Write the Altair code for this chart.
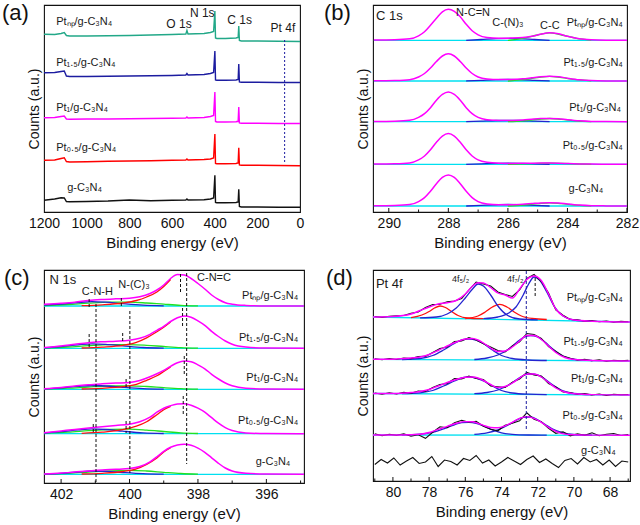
import altair as alt
import pandas as pd

FONT = "Liberation Sans"
MAG = "#ff00ff"
RED = "#ff1010"
BLUE = "#2424d0"
CYAN = "#00e0f0"
GREEN = "#22e022"
BLACK = "#111111"
TEAL = "#22a888"
NAVY = "#1c1ca0"

LBL = ["Ptₙₚ/g-C₃N₄", "Pt₁.₅/g-C₃N₄", "Pt₁/g-C₃N₄", "Pt₀.₅/g-C₃N₄", "g-C₃N₄"]

# ---------------- panel (a): survey ----------------
A_BE = [1200, 1150, 1120, 1105, 1095, 1080, 1000, 900, 800, 700, 600, 535, 530, 525,
        450, 420, 405, 399, 396, 390, 350, 300, 290, 287, 284, 275, 200, 100, 0]
A_NP = [177.7, 177.5, 178.5, 179.5, 176.5, 176, 176, 176.3, 176.5, 177, 177.5, 178, 181.5, 178,
        178.5, 179.5, 180.5, 201, 174, 173.5, 173.5, 174, 174.5, 186, 171.5, 171, 171, 170.7, 170.5]
A_15 = [139.3, 139.5, 140.5, 141, 136, 135.5, 135.5, 135.7, 136, 136.2, 136.5, 137, 138.5, 137,
        137.5, 138.5, 139.5, 161, 132, 131.7, 131.7, 132, 132.5, 148, 130, 129.7, 129.7, 129.5, 129.5]
A_1 = [94.3, 94.5, 95.5, 96, 93, 92.7, 93, 93, 93.2, 93.5, 93.7, 94, 95, 94,
       94.5, 95.5, 96.5, 120, 90.5, 90, 90, 90.3, 90.7, 105, 89, 88.7, 88.7, 88.5, 88.5]
A_05 = [51.7, 52, 53.5, 54.3, 50.5, 50, 50.3, 50.7, 51, 51.3, 51.7, 52, 53, 52,
        52.5, 53, 54, 78, 48.5, 48.3, 48.3, 48.5, 49, 64.3, 47, 46.7, 46.7, 46.5, 46.3]
A_G = [11.7, 13, 14.3, 14, 10.5, 10.3, 10.5, 11, 12, 11.3, 11.7, 12, 13, 12,
       12.3, 13, 14, 36.7, 9.5, 9.3, 9.3, 9.5, 10, 22.7, 5.5, 5, 5, 4.8, 4.7]
A_TICKS = [1200, 1000, 800, 600, 400, 200, 0]

# ---------------- panel (b): C 1s ----------------
B_BE = [290.5, 289.8, 289.3, 289.0, 288.8, 288.6, 288.4, 288.2, 288.0, 287.8, 287.6, 287.4, 287.2,
        287.0, 286.7, 286.3, 285.9, 285.5, 285.2, 284.9, 284.6, 284.3, 284.0, 283.6, 283.2, 282.7, 282.0]
B_NP = [0.2, 0.5, 1.5, 4.5, 8.5, 15, 22, 28.5, 31, 29, 23.5, 16, 9.5,
        5.5, 2.8, 2, 2.2, 2.8, 4, 6, 7.6, 6.5, 4, 1.5, 0.5, 0.1, 0]
B_15 = [0.2, 0.5, 1.3, 4, 7.5, 13, 19.5, 25, 27.3, 25, 19.5, 13, 7.5,
        4, 2, 1.5, 1.6, 2.2, 3.2, 4.2, 4.7, 4.2, 2.8, 1.2, 0.4, 0.1, 0]
B_1 = [0.2, 0.5, 1.4, 4.3, 8, 14, 21.5, 27.3, 29.7, 27.3, 21.5, 14, 8,
       4.3, 2, 1.3, 1.3, 1.8, 2.5, 3.1, 3.3, 3, 2, 0.9, 0.3, 0.1, 0]
B_05 = [0.2, 0.5, 1.4, 4.4, 8.3, 14.5, 22, 28.2, 30.7, 28.2, 22, 14.5, 8.3,
        4.4, 2, 1.1, 0.9, 1, 1.1, 1.2, 1.2, 1.1, 0.8, 0.4, 0.2, 0.1, 0]
B_G = [0.2, 0.5, 1.4, 4.4, 8.4, 14.7, 22.3, 28.6, 31, 28.6, 22.3, 14.7, 8.4,
       4.4, 2, 1.2, 1.2, 1.7, 2.4, 3.1, 3.3, 3, 2, 0.9, 0.3, 0.1, 0]
B_OFF = [171.7, 131, 90.3, 47.7, 6]
B_CN_BE = [287.4, 286.9, 286.4, 286.0, 285.6, 285.1, 284.6]
B_CN = [[0, 0.8, 1.7, 2, 1.7, 0.8, 0], [0, 0.7, 1.4, 1.7, 1.4, 0.7, 0], [0, 0.6, 1.2, 1.4, 1.2, 0.6, 0],
        [0, 0.5, 1, 1.2, 1, 0.5, 0], [0, 0.6, 1.2, 1.5, 1.2, 0.6, 0]]
B_CC_BE = [286.0, 285.5, 285.0, 284.6, 284.2, 283.7, 283.2]
B_CC = [[0, 2, 5.3, 7.4, 5.3, 2, 0.3], [0, 1.3, 3.3, 4.6, 3.3, 1.3, 0.2], [0, 0.9, 2.3, 3.2, 2.3, 0.9, 0.1],
        [0, 0.4, 0.9, 1.1, 0.9, 0.4, 0], [0, 0.9, 2.3, 3.2, 2.3, 0.9, 0.1]]
B_TICKS = [290, 288, 286, 284, 282]
B_MINOR = [289, 287, 285, 283]

# ---------------- panel (c): N 1s ----------------
C_BE = [402.5, 402.0, 401.6, 401.2, 400.8, 400.4, 400.0, 399.7, 399.4, 399.2, 399.0, 398.8,
        398.6, 398.4, 398.2, 398.0, 397.8, 397.6, 397.4, 397.2, 397.0, 396.6, 396.0, 394.9]
C_NP = [1.7, 2.7, 3.8, 5.5, 6.5, 7.2, 7.8, 9.3, 12.5, 16, 21, 27.5,
        31.5, 31, 27.5, 22.5, 17, 11, 6.5, 3.3, 1.8, 0.6, 0.1, 0]
C_15 = [0.7, 2.3, 4, 5.6, 6.5, 7.1, 8, 10, 14, 18, 22, 26.8,
        30.5, 32.3, 31, 27.5, 23, 17, 11.8, 7.3, 4, 1.2, 0.2, 0]
C_1 = [0.5, 1.8, 3.2, 4.6, 5.5, 6.2, 6.8, 8.8, 12.5, 15.5, 19, 23,
       26.5, 28.2, 27.5, 24.5, 20.5, 15, 10.3, 6.3, 3.5, 1, 0.2, 0]
C_05 = [1, 2.8, 4.3, 5.7, 7, 8.3, 9.5, 12, 16.5, 21.5, 25.5, 28,
        29.7, 30, 28.5, 25.5, 21.5, 16, 10.5, 6, 3.2, 0.8, 0.1, 0]
C_G = [0.3, 1.2, 2.3, 3.4, 4.4, 5, 5.8, 7.8, 12.5, 17.5, 23, 27,
       29.3, 30, 29, 26.2, 22, 16.5, 11, 6.3, 3.3, 1, 0.2, 0]
C_OFF = [177, 134.7, 93.7, 49.3, 8.7]
C_RED_BE = [401.4, 400.8, 400.2, 399.8, 399.5, 399.2, 399.0, 398.8]
C_RED = [[0.3, 1.2, 3, 5.5, 9, 14, 19.5, 26.5], [0.3, 1.2, 3, 6, 10.5, 16.5, 21, 26.2],
         [0.3, 1, 2.6, 5, 9, 13.5, 17.8, 22.3], [0.4, 1.5, 4, 7.5, 12, 19, 24, 27.3],
         [0.3, 1, 2.8, 5.5, 10, 16.3, 22.2, 26.5]]
C_BLUE_BE = [402.5, 402.0, 401.5, 401.1, 400.7, 400.2, 399.6, 399.0]
C_BLUE = [[0.8, 2, 3.5, 4.3, 3.8, 2.3, 0.8, 0.2], [0.5, 1.8, 3.5, 4.5, 4, 2.5, 0.8, 0.2],
          [0.4, 1.5, 3, 3.8, 3.3, 2, 0.7, 0.1], [0.7, 2, 3.8, 4.8, 4.2, 2.5, 0.8, 0.2],
          [0.2, 1, 2.3, 3.3, 3, 1.8, 0.6, 0.1]]
C_GREEN_BE = [402.5, 401.8, 401.2, 400.6, 400.0, 399.5, 399.0, 398.5, 398.0]
C_GREEN = [[0.5, 1.5, 2.8, 3.8, 3.8, 3, 1.8, 0.7, 0.2], [0.4, 1.3, 2.6, 3.6, 3.7, 3, 1.8, 0.7, 0.2],
           [0.3, 1.1, 2.3, 3.3, 3.5, 2.8, 1.6, 0.6, 0.1], [0.5, 1.6, 3, 4.2, 4.5, 3.6, 2.2, 0.8, 0.2],
           [0.3, 1, 2.2, 3.5, 4, 3.3, 2, 0.8, 0.2]]
C_LONG_BE = [400.98, 399.99, 398.33]
C_LONG_Y1 = [179, 172, 210]
C_LONG_Y2 = [0, 10, 19]
C_SEG_BE = [401.18, 400.24, 398.51, 401.18, 400.2, 398.45, 400.1, 398.4, 401.06, 400.1, 398.43]
C_SEG_Y1 = [184, 185, 209, 149, 150, 175, 104, 127, 59, 62, 87]
C_SEG_Y2 = [174, 177, 190, 135, 140, 157, 94, 109, 49, 50, 67]
C_TICKS = [402, 400, 398, 396]
C_MINOR = [401, 399, 397, 395]

# ---------------- panel (d): Pt 4f ----------------
D_BE = [81.1, 80, 79, 78.5, 78, 77.5, 77, 76.5, 76, 75.6, 75.3, 75.0, 74.6, 74.2, 73.8, 73.4,
        73.0, 72.6, 72.2, 71.8, 71.4, 71.0, 70.5, 70.0, 69, 66.9]
D_NP = [5, 5.5, 8, 11.5, 15, 18, 19.3, 21.5, 28, 36, 39.3, 39, 34.5, 29, 27, 24,
        33, 42.5, 46, 41.5, 28, 13, 5, 2, 0.8, 0]
D_15 = [1.7, 1.8, 3, 4, 6.5, 10.5, 15, 19, 22, 22.5, 21, 18, 13, 9.5, 10, 14,
        20, 25.5, 25.5, 21.5, 15, 8.5, 3.5, 1.5, 0.5, 0]
D_1 = [1.5, 1.5, 2.5, 3.5, 5.5, 9, 12.5, 15.5, 17.8, 18, 17, 14.5, 10.5, 7.5, 8.5, 12,
       17, 21, 21, 18, 12.5, 7, 3, 1.2, 0.4, 0]
D_05 = [0.3, 0.3, 0.5, 1, 2.8, 6, 9, 12, 13.7, 13.5, 12, 10, 7.8, 7.5, 9.5, 13,
        17, 18.7, 17, 13, 8, 4, 1.2, 0.5, 0.2, 0]
D_OFF = [159, 120, 86, 45.7, 17.5]
D_CYAN_LEFT = [5, 1.7, 1.5, 0.3]
D_RAW_BE = [81.0, 80.6, 80.2, 79.8, 79.4, 79.0, 78.6, 78.2, 77.8, 77.4, 77.0, 76.6, 76.2, 75.8,
            75.4, 75.0, 74.6, 74.2, 73.8, 73.4, 73.0, 72.6, 72.2, 71.8, 71.4, 71.0, 70.6, 70.2,
            69.8, 69.4, 69.0, 68.6, 68.2, 67.8, 67.4, 67.0]
D_RAW_NP = [5.5, 4.6, 5.8, 6.3, 6.5, 8.7, 10, 14.5, 17.5, 17.8, 20.2, 21, 23.5, 32, 40, 38, 36, 30,
            27.5, 25.5, 32, 43.5, 47.5, 40.5, 29, 12, 6.8, 2.5, 2.2, 0.8, 1.5, 0.2, 1, -0.3, 0.6, 0.2]
D_RAW_15 = [2.2, 1.3, 2.5, 1.5, 3, 2.4, 4.5, 4.6, 8.5, 12.5, 14, 19.5, 20, 23.5, 21, 17.2, 14, 10.5,
            9, 15, 19.2, 27.5, 26.5, 22.5, 14.5, 9.5, 5, 2.8, 0.8, 1.8, 0.2, 1.2, -0.2, 0.8, 0.3, 0.6]
D_RAW_1 = [2, 0.8, 2.3, 1, 2.8, 1.7, 4, 3.5, 7.5, 10.5, 11.5, 16.5, 16, 19, 16.5, 15.5, 9, 8.3,
           7.5, 12.8, 16, 22.5, 20, 19, 11.5, 8, 3, 2.5, 0.5, 1.5, 0, 1, -0.5, 0.8, 0.2, 0.5]
D_RAW_05 = [1.5, -0.5, 1, 0, 1.5, -1, 0.5, -3, 3, 8.5, 7.5, 12.5, 15, 13, 14, 9, 6, 4.5,
            10, 12, 14.5, 22.5, 16, 13.5, 7, 2, 3.5, -0.5, 1.5, 0, 2.5, -0.5, 1, 1.8, -0.2, 0.8]
D_RAW_G_BE = [81.0, 80.65, 80.3, 79.95, 79.6, 79.25, 78.9, 78.55, 78.2, 77.85, 77.5, 77.15, 76.8,
              76.45, 76.1, 75.75, 75.4, 75.05, 74.7, 74.35, 74.0, 73.65, 73.3, 72.95, 72.6, 72.25,
              71.9, 71.55, 71.2, 70.85, 70.5, 70.15, 69.8, 69.45, 69.1, 68.75, 68.4, 68.05, 67.7,
              67.35, 67.0]
D_RAW_G = [-1, 4, 0.5, 5.5, -1.5, 2.5, 6, 0, 1.5, 7, -3, 3.5, 2, -1.5, 5, 3, 8, 0.5, 3.5, -2.5,
           1.5, 6, 2.5, -1, 4, 7.5, 1, 4.5, 0, -4, 3, 5, -0.5, 6, 1.5, 4, -1.5, 3.5, -3, 2.5, 1.5]
D_NP_B1_BE = [78.5, 77.6, 77.0, 76.5, 76.0, 75.6, 75.3, 75.0, 74.6, 74.2, 73.7, 73.0, 72.0]
D_NP_B1 = [4.2, 5, 8, 14, 24, 33, 38, 36, 27, 16, 7, 3, 2.2]
D_NP_B2_BE = [75.0, 74.2, 73.6, 73.2, 72.8, 72.5, 72.2, 71.9, 71.5, 71.1, 70.6, 70.0, 69.0]
D_NP_B2 = [3.3, 5, 9, 15, 27, 38, 45, 42, 30, 16, 6, 2, 0.8]
D_NP_R1_BE = [79.0, 78.4, 78.0, 77.7, 77.4, 77.1, 76.8, 76.4, 75.9, 75.0]
D_NP_R1 = [4.3, 7, 10.5, 14, 16, 14.5, 11, 6.5, 4, 3.3]
D_NP_R2_BE = [76.0, 75.3, 74.9, 74.5, 74.1, 73.7, 73.3, 72.9, 72.3, 71.5]
D_NP_R2 = [3.5, 6, 10, 15, 17.7, 15, 10, 6, 3.5, 2.5]
D_B1_BE = [79.5, 78.5, 77.8, 77.2, 76.6, 76.2, 75.8, 75.4, 75.0, 74.5, 74.0, 73.4, 72.5, 71.5]
D_B1 = [[1.5, 2.5, 5.5, 11, 17.5, 21, 22, 21, 17.5, 11, 5.5, 2.5, 1, 0.5],
        [1.3, 2.2, 4.5, 9, 14, 17, 18, 17, 14, 9, 4.5, 2, 0.8, 0.4],
        [0.5, 1.2, 3, 6.5, 10.5, 12.8, 13, 12, 9.5, 5.5, 2.5, 1, 0.3, 0.1]]
D_B2_BE = [75.5, 74.8, 74.2, 73.6, 73.2, 72.8, 72.4, 72.0, 71.6, 71.2, 70.6, 70.0, 69.0]
D_B2 = [[1.5, 3, 6, 12, 18, 23.5, 25.5, 24, 19, 12.5, 5, 1.8, 0.5],
        [1.3, 2.5, 5, 10, 15, 19.5, 21, 20, 16, 10.5, 4.2, 1.5, 0.4],
        [1, 2.5, 5.5, 10.5, 15, 18, 18.3, 15.5, 11, 6.5, 2.5, 0.8, 0.2]]
D_TICKS = [80, 78, 76, 74, 72, 70, 68]
D_MINOR = [81, 79, 77, 75, 73, 71, 69, 67]


def long_df(entries):
    rows = []
    for cid, xs, ys, off, col in entries:
        for k, (x, v) in enumerate(zip(xs, ys)):
            rows.append({"be": x, "y": v + off, "id": cid, "col": col, "k": k})
    return pd.DataFrame(rows)


def make_panel(W, H, xdom, xticks, minor, layers_spec, texts, letter, letter_x, rules):
    xscale = alt.Scale(domain=xdom, nice=False, zero=False)
    xaxis = alt.Axis(values=xticks, format="d", title="Binding energy (eV)",
                     labelFontSize=14, titleFontSize=15, labelFont=FONT, titleFont=FONT,
                     titleFontWeight="normal", labelColor="#111", titleColor="#111",
                     ticks=False, domain=False, grid=False, labelFlush=False,
                     labelOverlap=False, labelPadding=4, titlePadding=5)
    yscale = alt.Scale(domain=[0, H], nice=False, zero=False)
    yaxis = alt.Axis(title="Counts (a.u.)", labels=False, ticks=False, domain=False,
                     grid=False, titleFontSize=14, titleFont=FONT,
                     titleFontWeight="normal", titleColor="#111", titlePadding=3)
    X = alt.X("be:Q", scale=xscale, axis=xaxis)
    Y = alt.Y("y:Q", scale=yscale, axis=yaxis)
    parts = []
    for df, interp, sw in layers_spec:
        parts.append(alt.Chart(df).mark_line(interpolate=interp, strokeWidth=sw, clip=True).encode(
            x=X, y=Y, color=alt.Color("col:N", scale=None), detail="id:N", order="k:Q"))
    for rdf, col, dash, sw in rules:
        parts.append(alt.Chart(rdf).mark_rule(color=col, strokeDash=dash, strokeWidth=sw).encode(
            x=X, y=alt.Y("y1:Q", scale=yscale, axis=yaxis), y2="y2:Q"))
    if minor is not None:
        parts.append(alt.Chart(pd.DataFrame({"be": xticks})).mark_rule(color="#111", strokeWidth=1).encode(
            x=X, y=alt.value(H), y2=alt.value(H - 4)))
        parts.append(alt.Chart(pd.DataFrame({"be": minor})).mark_rule(color="#111", strokeWidth=1).encode(
            x=X, y=alt.value(H), y2=alt.value(H - 2.5)))
    for tdf, align, size in texts:
        parts.append(alt.Chart(tdf).mark_text(align=align, baseline="middle", fontSize=size,
                                              font=FONT, color="#1a1a1a").encode(
            x=X, y=Y, text="t:N"))
    parts.append(alt.Chart(pd.DataFrame({"t": [letter]})).mark_text(
        align="left", baseline="alphabetic", fontSize=22, font=FONT, color="#111").encode(
        x=alt.value(letter_x), y=alt.value(15), text="t:N"))
    return alt.layer(*parts).properties(width=W, height=H)


# ---- panel a ----
a_lines = long_df([("np", A_BE, A_NP, 0, TEAL), ("p15", A_BE, A_15, 0, NAVY),
                   ("p1", A_BE, A_1, 0, MAG), ("p05", A_BE, A_05, 0, "#ff0000"),
                   ("g", A_BE, A_G, 0, BLACK)])
a_rule = pd.DataFrame({"be": [72], "y1": [172], "y2": [48]})
a_txt_l = pd.DataFrame({"be": [1143, 1143, 1143, 1143, 1091],
                        "y": [190, 149, 104, 64, 24], "t": LBL})
a_txt_c = pd.DataFrame({"be": [567, 458, 283, 80], "y": [188, 199, 192, 184],
                        "t": ["O 1s", "N 1s", "C 1s", "Pt 4f"]})
pa = make_panel(256, 207, [1200, 0], A_TICKS, None,
                [(a_lines, "linear", 1.4)],
                [(a_txt_l, "left", 11), (a_txt_c, "center", 12)],
                "(a)", -42, [(a_rule, NAVY, [2, 2], 1)])

# ---- panel b ----
b_ent = []
for i, (vals, off) in enumerate(zip([B_NP, B_15, B_1, B_05, B_G], B_OFF)):
    b_ent.append((f"cy{i}", [290.5, 282.0], [0, 0], off, CYAN))
    b_ent.append((f"cn{i}", B_CN_BE, B_CN[i], off, BLUE))
    b_ent.append((f"cc{i}", B_CC_BE, B_CC[i], off, GREEN))
b_comp = long_df(b_ent)
b_fit = long_df([(f"m{i}", B_BE, v, o, MAG) for i, (v, o) in
                 enumerate(zip([B_NP, B_15, B_1, B_05, B_G], B_OFF))])
b_txt_r = pd.DataFrame({"be": [282.14, 282.14, 282.2, 282.14, 282.8],
                        "y": [189, 149, 104, 66, 23], "t": LBL})
b_txt_c = pd.DataFrame({"be": [287.17, 286.0, 284.59], "y": [199, 189, 186],
                        "t": ["N-C=N", "C-(N)₃", "C-C"]})
b_txt_l = pd.DataFrame({"be": [290.43], "y": [196], "t": ["C 1s"]})
pb = make_panel(254, 207, [290.53, 282], B_TICKS, B_MINOR,
                [(b_comp, "monotone", 1.3), (b_fit, "monotone", 1.5)],
                [(b_txt_r, "right", 11), (b_txt_c, "center", 11), (b_txt_l, "left", 13)],
                "(b)", -49, [])

# ---- panel c ----
c_ent = []
for i, off in enumerate(C_OFF):
    c_ent.append((f"cy{i}", [402.5, 394.9], [0, 0], off, CYAN))
    c_ent.append((f"gr{i}", C_GREEN_BE, C_GREEN[i], off, GREEN))
    c_ent.append((f"bl{i}", C_BLUE_BE, C_BLUE[i], off, BLUE))
    c_ent.append((f"rd{i}", C_RED_BE, C_RED[i], off, RED))
c_comp = long_df(c_ent)
c_fit = long_df([(f"m{i}", C_BE, v, o, MAG) for i, (v, o) in
                 enumerate(zip([C_NP, C_15, C_1, C_05, C_G], C_OFF))])
c_rules = pd.DataFrame({"be": C_LONG_BE + C_SEG_BE, "y1": C_LONG_Y1 + C_SEG_Y1,
                        "y2": C_LONG_Y2 + C_SEG_Y2})
c_txt_r = pd.DataFrame({"be": [395.07, 395.07, 395.07, 395.07, 395.3],
                        "y": [187, 145, 105, 62, 21], "t": LBL})
c_txt_c = pd.DataFrame({"be": [400.94, 399.87, 397.53], "y": [191, 198, 205],
                        "t": ["C-N-H", "N-(C)₃", "C-N=C"]})
c_txt_l = pd.DataFrame({"be": [402.34], "y": [203], "t": ["N 1s"]})
pc = make_panel(260, 213, [402.5, 394.9], C_TICKS, C_MINOR,
                [(c_comp, "monotone", 1.3), (c_fit, "monotone", 1.5)],
                [(c_txt_r, "right", 11), (c_txt_c, "center", 11), (c_txt_l, "left", 13)],
                "(c)", -40, [(c_rules, BLACK, [3, 2], 1)])

# ---- panel d ----
d_ent = []
for i, off in enumerate(D_OFF[:4]):
    d_ent.append((f"cy{i}", [81.1, 66.9], [D_CYAN_LEFT[i], 0], off, CYAN))
d_ent.append(("r1", D_NP_R1_BE, D_NP_R1, D_OFF[0], RED))
d_ent.append(("r2", D_NP_R2_BE, D_NP_R2, D_OFF[0], RED))
d_ent.append(("b1", D_NP_B1_BE, D_NP_B1, D_OFF[0], BLUE))
d_ent.append(("b2", D_NP_B2_BE, D_NP_B2, D_OFF[0], BLUE))
for i in range(3):
    d_ent.append((f"b1_{i}", D_B1_BE, D_B1[i], D_OFF[i + 1], BLUE))
    d_ent.append((f"b2_{i}", D_B2_BE, D_B2[i], D_OFF[i + 1], BLUE))
d_comp = long_df(d_ent)
d_raw = long_df([(f"raw{i}", D_RAW_BE, v, o, BLACK) for i, (v, o) in
                 enumerate(zip([D_RAW_NP, D_RAW_15, D_RAW_1, D_RAW_05], D_OFF[:4]))]
                + [("rawg", D_RAW_G_BE, D_RAW_G, D_OFF[4], BLACK)])
d_fit = long_df([(f"m{i}", D_BE, v, o, MAG) for i, (v, o) in
                 enumerate(zip([D_NP, D_15, D_1, D_05], D_OFF[:4]))])
d_rule1 = pd.DataFrame({"be": [72.63], "y1": [210], "y2": [51]})
d_rule2 = pd.DataFrame({"be": [72.14], "y1": [203], "y2": [183]})
d_txt_r = pd.DataFrame({"be": [67.3, 67.3, 67.3, 67.3, 67.69],
                        "y": [183, 139, 102, 65, 30], "t": LBL})
d_txt_c = pd.DataFrame({"be": [76.26, 73.24], "y": [202, 202], "t": ["4f₅/₂", "4f₇/₂"]})
d_txt_l = pd.DataFrame({"be": [80.94], "y": [197], "t": ["Pt 4f"]})
pd_ = make_panel(257, 211, [81.1, 66.9], D_TICKS, D_MINOR,
                 [(d_comp, "monotone", 1.3), (d_raw, "linear", 1.1), (d_fit, "monotone", 1.4)],
                 [(d_txt_r, "right", 11), (d_txt_c, "center", 9), (d_txt_l, "left", 13)],
                 "(d)", -47, [(d_rule1, NAVY, [3, 2], 1), (d_rule2, BLACK, [3, 2], 1)])

chart = alt.concat(pa, pb, pc, pd_, columns=2, spacing={"row": 58, "column": 69},
                   bounds="flush", padding={"left": 1, "top": 1, "right": 0, "bottom": 0}
                   ).configure_view(stroke="#111", strokeWidth=1.1)

chart.save("out.html", embed_options={"renderer": "svg", "actions": False})
